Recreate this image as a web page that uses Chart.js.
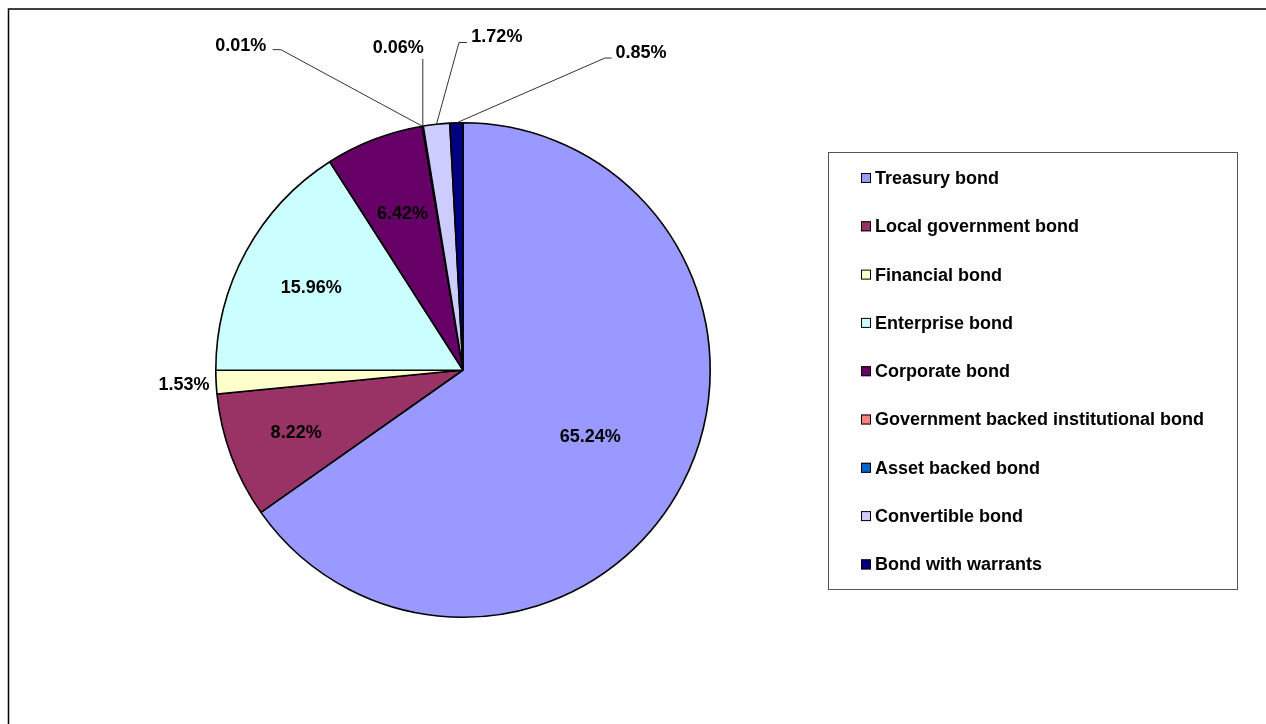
<!DOCTYPE html>
<html>
<head>
<meta charset="utf-8">
<script src="https://cdn.jsdelivr.net/npm/chart.js@4/dist/chart.umd.min.js"></script>
<style>
    html, body { margin: 0; padding: 0; background: #ffffff; overflow: hidden; }
    #wrap { width: 1266px; height: 724px; }
</style>
</head>
<body>
<div id="wrap"><canvas id="bondChart" width="1266" height="724"></canvas></div>
<script>
// Bond categories and their share (%)
const categories = ['Treasury bond', 'Local government bond', 'Financial bond', 'Enterprise bond', 'Corporate bond',
    'Government backed institutional bond', 'Asset backed bond', 'Convertible bond', 'Bond with warrants'];
const shares = [65.24, 8.22, 1.53, 15.96, 6.42, 0.01, 0.06, 1.72, 0.85];
const sliceColors = ['#9999FF', '#993366', '#FFFFCC', '#CCFFFF', '#660066', '#FF8080', '#0066CC', '#CCCCFF', '#000080'];

const FONT = 'bold 18px "Liberation Sans", Arial, sans-serif';

// where each percentage label goes (in units of the pie radius, from the centre)
// inside: label on the mid angle at that fraction of the radius
// leader: label placed at (lx, ly), line goes from slice edge via elbow (ex, ey) to (hx, hy)
const labelPlacement = [
    { inside: 0.58 },
    { inside: 0.72 },
    { inside: 1.13 },
    { inside: 0.70 },
    { inside: 0.68 },
    { lx: -0.899, ly: -1.31, ex: -0.737, ey: -1.296, hx: -0.77, hy: -1.296 },
    { lx: -0.262, ly: -1.302, ex: null, ey: -1.258, hx: null, hy: -1.258 },
    { lx: 0.137, ly: -1.345, ex: -0.016, ey: -1.325, hx: 0.016, hy: -1.325 },
    { lx: 0.72, ly: -1.282, ex: 0.574, ey: -1.262, hx: 0.601, hy: -1.262 }
];

const labelPlugin = {
    id: 'labelPlugin',
    afterDraw(chart) {
        const ctx = chart.ctx;
        const arcs = chart.getDatasetMeta(0).data;
        ctx.save();
        ctx.font = FONT;
        ctx.fillStyle = '#000000';
        ctx.textAlign = 'center';
        ctx.textBaseline = 'middle';

        arcs.forEach((arc, i) => {
            const p = arc.getProps(['x', 'y', 'startAngle', 'endAngle', 'outerRadius'], true);
            const mid = (p.startAngle + p.endAngle) / 2;
            const r = p.outerRadius;
            const text = shares[i].toFixed(2) + '%';
            const place = labelPlacement[i];
            if (place.inside !== undefined) {
                ctx.fillText(text, p.x + Math.cos(mid) * r * place.inside, p.y + Math.sin(mid) * r * place.inside + 1);
            } else {
                // leader line from the slice edge
                const sx = p.x + Math.cos(mid) * r;
                const sy = p.y + Math.sin(mid) * r;
                const ex = place.ex === null ? sx : p.x + place.ex * r;
                const ey = p.y + place.ey * r;
                const hx = place.hx === null ? sx : p.x + place.hx * r;
                const hy = p.y + place.hy * r;
                ctx.strokeStyle = '#333333';
                ctx.lineWidth = 1;
                ctx.beginPath();
                ctx.moveTo(sx, sy);
                ctx.lineTo(ex, ey);
                ctx.lineTo(hx, hy);
                ctx.stroke();
                ctx.fillText(text, p.x + place.lx * r, p.y + place.ly * r);
            }
        });

        // legend box
        ctx.strokeStyle = '#555555';
        ctx.lineWidth = 1;
        ctx.strokeRect(828.5, 152.5, 409, 437);
        ctx.textAlign = 'left';
        categories.forEach((name, i) => {
            const y = 178 + i * 48.3;
            ctx.fillStyle = sliceColors[i];
            ctx.fillRect(861, y - 5, 10, 10);
            ctx.strokeStyle = '#000000';
            ctx.strokeRect(861.5, y - 4.5, 9, 9);
            ctx.fillStyle = '#000000';
            ctx.fillText(name, 875, y + 1);
        });

        // outer frame (runs off the right and bottom)
        ctx.strokeStyle = '#000000';
        ctx.lineWidth = 1.5;
        ctx.strokeRect(8.5, 9, 1400, 900);
        ctx.restore();
    }
};

const ctx = document.getElementById('bondChart').getContext('2d');
const bondChart = new Chart(ctx, {
    type: 'pie',
    data: {
        labels: categories,
        datasets: [{
            data: shares,
            backgroundColor: sliceColors,
            borderColor: '#000000',
            borderWidth: 1.6
        }]
    },
    options: {
        responsive: false,
        animation: false,
        events: [],
        layout: {
            padding: { left: 215, right: 555, top: 122, bottom: 106 }
        },
        plugins: {
            legend: { display: false },
            tooltip: { enabled: false }
        }
    },
    plugins: [labelPlugin]
});
</script>
</body>
</html>
